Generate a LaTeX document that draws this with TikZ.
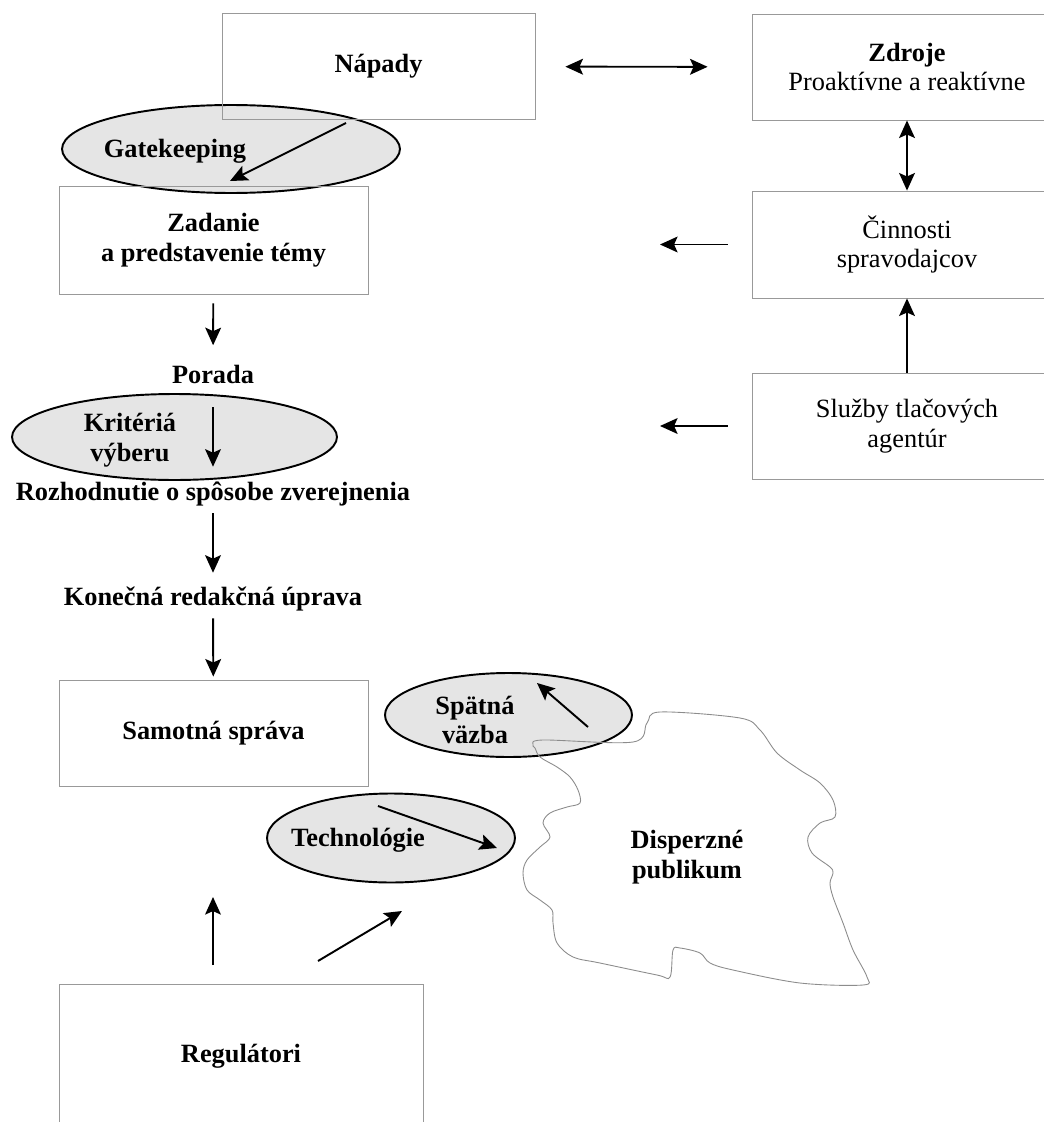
\documentclass[tikz,border=0pt]{standalone}
\usepackage{fontspec}
\setmainfont{Liberation Serif}
\usetikzlibrary{
    arrows.meta,
    shapes.geometric
}

\newcommand{\diagfont}{\fontsize{15}{17}\selectfont}

\tikzset{
    box/.style={rectangle, draw=black!40, line width=0.5pt, align=center, inner sep=0pt, font=\diagfont},
    boldbox/.style={box, font=\diagfont\bfseries},
    oval/.style={ellipse, draw=black, line width=1.1pt, fill=black!10, inner sep=0pt},
    txt/.style={inner sep=0pt, text height=10pt, text depth=3pt, font=\diagfont\bfseries},
    txtm/.style={inner sep=0pt, align=center, font=\diagfont\bfseries},
    link/.style={line width=1.1pt},
    cloudline/.style={draw=black!45, line width=0.5pt}
}

\begin{document}
\begin{tikzpicture}[x=0.02cm, y=-0.02cm, font=\diagfont,
    >={Stealth[length=10pt, width=9pt, inset=2pt]}]
    \useasboundingbox (0, 0) rectangle (1044, 1122);
    \fill[white] (0, 0) rectangle (1044, 1122);
    \clip (0, 0) rectangle (1044, 1122);

    % ellipses
    \node[oval, minimum width=6.76cm, minimum height=1.76cm] (gate) at (231, 149) {};
    \node[oval, minimum width=6.5cm, minimum height=1.72cm] (krit) at (174.5, 437) {};
    \node[oval, minimum width=4.94cm, minimum height=1.68cm] (spat) at (508.5, 715) {};
    \node[oval, minimum width=4.96cm, minimum height=1.78cm] (tech) at (391, 838) {};

    % boxes
    \node[boldbox, minimum width=6.26cm, minimum height=2.12cm] (napady) at (378.5, 66.5) {Nápady};
    \node[box, minimum width=6.2cm, minimum height=2.12cm] (zdroje) at (907, 67) {\textbf{Zdroje}\\Proaktívne a reaktívne};
    \node[box, minimum width=6.2cm, minimum height=2.14cm] (cinnosti) at (907, 244.5) {Činnosti\\spravodajcov};
    \node[box, minimum width=6.2cm, minimum height=2.12cm] (sluzby) at (907, 426) {Služby tlačových\\agentúr};
    \node[boldbox, minimum width=6.18cm, minimum height=2.16cm] (zadanie) at (213.5, 240) {Zadanie\\a predstavenie témy};
    \node[boldbox, minimum width=6.18cm, minimum height=2.12cm] (samotna) at (213.5, 733) {Samotná správa};
    \node[boldbox, minimum width=7.28cm, minimum height=2.88cm] (regulatori) at (241, 1056) {Regulátori};

    % audience
    \draw[cloudline] plot[smooth cycle, tension=0.55] coordinates {
        (533, 745) (543, 740) (633, 742) (647, 723) (660, 712) (740, 718)
        (760, 730) (777, 753) (800, 770) (820, 783) (833, 800) (835, 817)
        (820, 823) (808, 837) (812, 853) (830, 867) (833, 873) (830, 883)
        (833, 897) (843, 923) (853, 950) (867, 977) (863, 985) (800, 983)
        (733, 970) (710, 963) (700, 953) (680, 948) (673, 950) (670, 977)
        (657, 975) (600, 963) (573, 957) (557, 943) (553, 923) (552, 910)
        (540, 900) (527, 890) (523, 873) (527, 860) (540, 847) (550, 837)
        (543, 823) (550, 813) (567, 807) (580, 803) (578, 790) (570, 777)
        (557, 767) (540, 757) (535, 748)};
    \node[txtm] (publikum) at (687, 857) {Disperzné\\publikum};

    % labels
    \node[txt] (gatetext) at (175, 151) {Gatekeeping};
    \node[txtm] (krittext) at (130, 440) {Kritériá\\výberu};
    \node[txtm] (spattext) at (475, 720) {Spätná\\väzba};
    \node[txt] (techtext) at (358, 840) {Technológie};
    \node[txt] (porada) at (213, 377) {Porada};
    \node[txt] (rozhodnutie) at (213, 494) {Rozhodnutie o spôsobe zverejnenia};
    \node[txt] (konecna) at (213, 599) {Konečná redakčná úprava};

    % free ends
    \coordinate (cinnostiend) at (660, 244.5);
    \coordinate (sluzbyend) at (660, 426);
    \coordinate (gatefrom) at (346, 123);
    \coordinate (gateto) at (230, 181);
    \coordinate (spatfrom) at (588, 727);
    \coordinate (spatto) at (537, 683);
    \coordinate (techfrom) at (378, 806);
    \coordinate (techto) at (497, 848);
    \coordinate (regfrom) at (213, 965);
    \coordinate (regto) at (213, 897);
    \coordinate (regdiagfrom) at (318, 961);
    \coordinate (regdiagto) at (402, 911);

    \draw[link]
    (napady) edge[<->, shorten <=0.6cm, shorten >=0.88cm] (zdroje)
    (zdroje) edge[<->] (cinnosti)
    (sluzby) edge[->] (cinnosti)
    (cinnosti) edge[->, shorten <=0.48cm] (cinnostiend)
    (sluzby) edge[->, shorten <=0.48cm] (sluzbyend)
    (gatefrom) edge[->] (gateto)
    (zadanie) edge[->, shorten <=0.18cm, shorten >=0.4cm] (porada)
    (porada) edge[->, shorten <=0.37cm, shorten >=0.31cm] (rozhodnutie)
    (rozhodnutie) edge[->, shorten <=0.15cm, shorten >=0.29cm] (konecna)
    (konecna) edge[->, shorten <=0.15cm, shorten >=0.06cm] (samotna)
    (spatfrom) edge[->] (spatto)
    (techfrom) edge[->] (techto)
    (regfrom) edge[->] (regto)
    (regdiagfrom) edge[->] (regdiagto);
\end{tikzpicture}
\end{document}
